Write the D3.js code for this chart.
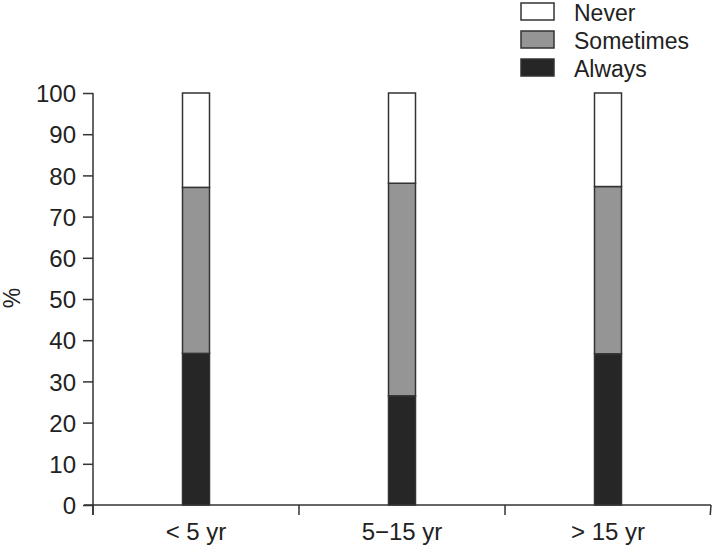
<!DOCTYPE html>
<html><head><meta charset="utf-8">
<script src="https://cdn.jsdelivr.net/npm/d3@7"></script>
<style>body{margin:0;background:#fff}text{font-family:"Liberation Sans",Arial,sans-serif;fill:#222}</style>
</head><body><svg id="c" width="712" height="546"></svg>
<script>
const categories = ["< 5 yr", "5\u221215 yr", "> 15 yr"];
const seriesNames = ["Always", "Sometimes", "Never"];
const always = [36.8, 26.5, 36.7];
const sometimes = [40.3, 51.6, 40.6];
const never = [22.9, 21.9, 22.7];
const yTicks = [0,10,20,30,40,50,60,70,80,90,100];
const colors = {Always:"#262626", Sometimes:"#959595", Never:"#ffffff"};

const svg = d3.select("#c");
const x0 = 93, x1 = 711, yTop = 93, yBot = 505;
const x = d3.scaleBand().domain(categories).range([x0, x1]);
const y = d3.scaleLinear().domain([0, 100]).range([yBot, yTop]);

const rows = categories.map((c, i) => ({cat: c, Always: always[i], Sometimes: sometimes[i], Never: never[i]}));
const stack = d3.stack().keys(seriesNames)(rows);
const bw = 27;

const g = svg.append("g");
stack.forEach(s => {
  g.selectAll(null).data(s).enter().append("rect")
    .attr("x", d => x(d.data.cat) + x.bandwidth()/2 - bw/2)
    .attr("y", d => y(d[1]))
    .attr("width", bw)
    .attr("height", d => y(d[0]) - y(d[1]))
    .attr("fill", colors[s.key])
    .attr("stroke", "#333").attr("stroke-width", 1.5);
});

// y axis
const ya = svg.append("g").attr("transform", `translate(${x0},0)`)
  .call(d3.axisLeft(y).tickValues(yTicks).tickSize(10).tickPadding(7));
ya.select(".domain").attr("d", `M0,${yTop}V${yBot+10}`).attr("stroke", "#333").attr("stroke-width", 1.5);
ya.selectAll(".tick line").attr("stroke", "#333").attr("stroke-width", 1.5);
ya.selectAll(".tick text").style("font-size", "24px").attr("fill", "#222").attr("dy", "0.36em");

// x axis
const xa = svg.append("g").attr("transform", `translate(0,${yBot})`)
  .call(d3.axisBottom(x).tickSize(0).tickPadding(0));
xa.select(".domain").attr("d", `M${x0-9},0H${x1}`).attr("stroke", "#333").attr("stroke-width", 1.5);
xa.selectAll(".tick text").style("font-size", "24px").attr("fill", "#222").attr("y", 35).attr("dy", "0");
const bounds = [x0].concat(categories.map(c => x(c) + x.bandwidth()));
xa.selectAll(".sep").data(bounds).enter().append("line")
  .attr("x1", d => d).attr("x2", d => Math.min(d, x1 - 0.75)).attr("y1", 0).attr("y2", 10)
  .attr("stroke", "#333").attr("stroke-width", 1.5);

// y label
svg.append("text").attr("transform", "translate(20,298) rotate(-90)")
  .attr("text-anchor", "middle").style("font-size", "23px").text("%");

// legend
const legendOrder = ["Never", "Sometimes", "Always"];
const lg = svg.append("g");
legendOrder.forEach((k, i) => {
  lg.append("rect").attr("x", 521).attr("y", 3 + i*28).attr("width", 33).attr("height", 17)
    .attr("fill", colors[k]).attr("stroke", "#333").attr("stroke-width", 1.5);
  lg.append("text").attr("x", 574).attr("y", 21 + i*28)
    .style("font-size", "23px").text(k);
});
</script></body></html>
